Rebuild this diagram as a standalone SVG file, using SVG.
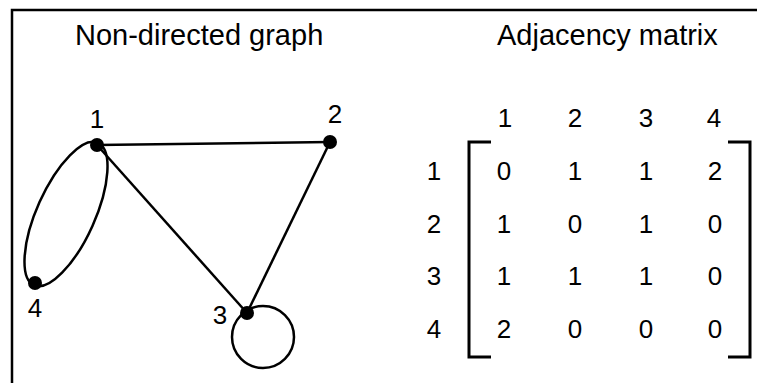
<svg xmlns="http://www.w3.org/2000/svg" width="757" height="383" viewBox="0 0 757 383">
<style>
text{font-family:"Liberation Sans",Arial,sans-serif;fill:#000;text-anchor:middle}
.title{font-size:29px;text-anchor:start}
.num{font-size:26px}
.edge{fill:none;stroke:#000;stroke-width:2.5}
.node{fill:#000}
.br{fill:none;stroke:#000;stroke-width:3}
</style>
<rect width="757" height="383" fill="#fff"/>
<path d="M12,383 V10 H757" fill="none" stroke="#000" stroke-width="2.5"/>
<text class="title" x="75" y="45">Non-directed graph</text>
<text class="title" x="497" y="45">Adjacency matrix</text>
<g id="edges">
<line class="edge" x1="97" y1="145" x2="330" y2="142"/>
<line class="edge" x1="97" y1="145" x2="247" y2="313"/>
<line class="edge" x1="330" y1="142" x2="247" y2="313"/>
<ellipse class="edge" cx="66" cy="214" rx="78" ry="29" transform="rotate(114.2 66 214)"/>
<circle class="edge" cx="263" cy="337" r="31"/>
</g>
<g id="n1"><circle class="node" cx="97" cy="145" r="7"/><text class="num" x="97" y="128">1</text></g>
<g id="n2"><circle class="node" cx="330" cy="142" r="7"/><text class="num" x="335" y="123">2</text></g>
<g id="n3"><circle class="node" cx="247" cy="313" r="7"/><text class="num" x="220" y="324">3</text></g>
<g id="n4"><circle class="node" cx="35" cy="283" r="7"/><text class="num" x="35" y="317">4</text></g>
<g id="matrix">
<path class="br" d="M491,142 H469 V357 H491"/>
<path class="br" d="M728,142 H750 V357 H728"/>
<text class="num" x="505" y="127">1</text><text class="num" x="575" y="127">2</text><text class="num" x="646" y="127">3</text><text class="num" x="714" y="127">4</text>
<text class="num" x="434" y="180">1</text><text class="num" x="434" y="233">2</text><text class="num" x="434" y="285">3</text><text class="num" x="434" y="338">4</text>
<text class="num" x="504" y="180">0</text><text class="num" x="575" y="180">1</text><text class="num" x="646" y="180">1</text><text class="num" x="715" y="180">2</text>
<text class="num" x="504" y="233">1</text><text class="num" x="575" y="233">0</text><text class="num" x="646" y="233">1</text><text class="num" x="715" y="233">0</text>
<text class="num" x="504" y="285">1</text><text class="num" x="575" y="285">1</text><text class="num" x="646" y="285">1</text><text class="num" x="715" y="285">0</text>
<text class="num" x="504" y="338">2</text><text class="num" x="575" y="338">0</text><text class="num" x="646" y="338">0</text><text class="num" x="715" y="338">0</text>
</g>
</svg>
